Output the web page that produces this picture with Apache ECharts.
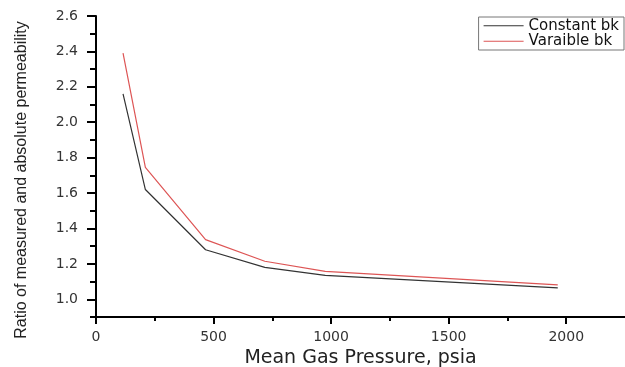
<!DOCTYPE html>
<html>
<head>
<meta charset="utf-8">
<script src="https://cdn.jsdelivr.net/npm/echarts@6/dist/echarts.min.js"></script>
<style>html,body{margin:0;padding:0;background:#fff}#main{width:625px;height:367px}</style>
</head>
<body>
<div id="main"></div>
<script>
// mean gas pressure (psia) and permeability ratio
var pressure = [115, 210, 466, 718, 975, 1964];
var constantBk = [2.16, 1.62, 1.28, 1.18, 1.135, 1.065];
var variableBk = [2.39, 1.745, 1.337, 1.215, 1.158, 1.081];
var yMajor = [1.0, 1.2, 1.4, 1.6, 1.8, 2.0, 2.2, 2.4, 2.6];
var yMinor = [0.9, 1.1, 1.3, 1.5, 1.7, 1.9, 2.1, 2.3, 2.5];
var xMajor = [0, 500, 1000, 1500, 2000];
var xMinor = [250, 750, 1250, 1750];

var myChart = echarts.init(document.getElementById('main'));

function pairs(xs, ys) {
    return xs.map(function (x, i) { return [x, ys[i]]; });
}

var option = {
    animation: false,
    grid: { left: 96, right: 0, top: 16, bottom: 50, outerBoundsMode: 'none' },
    legend: {
        orient: 'vertical',
        right: 1,
        top: 17,
        padding: [1, 5, 1, 5],
        itemGap: 0,
        itemWidth: 40,
        itemHeight: 1.2,
        icon: 'rect',
        borderColor: '#777',
        borderWidth: 1,
        textStyle: { fontFamily: 'DejaVu Sans', fontSize: 15, color: '#111', lineHeight: 15.5 },
        data: ['Constant bk', 'Varaible bk']
    },
    graphic: [{
        type: 'text',
        x: 22,
        y: 180,
        rotation: Math.PI / 2,
        style: {
            text: 'Ratio of measured and absolute permeability',
            fontFamily: 'Liberation Sans', fontSize: 16, fill: '#222',
            align: 'center', verticalAlign: 'middle'
        }
    }],
    xAxis: [
        {
            type: 'value', min: 0, max: 2250,
            name: 'Mean Gas Pressure, psia',
            nameLocation: 'middle',
            nameGap: 32,
            nameTextStyle: { fontFamily: 'DejaVu Sans', fontSize: 19, color: '#222' },
            axisLine: { onZero: false, lineStyle: { color: '#000', width: 2 } },
            axisTick: { customValues: xMajor, length: 7, lineStyle: { color: '#000', width: 2 } },
            axisLabel: {
                customValues: xMajor, margin: 13,
                fontFamily: 'DejaVu Sans', fontSize: 14, color: '#333',
                formatter: function (v) { return String(v); }
            },
            splitLine: { show: false }
        },
        {
            type: 'value', min: 0, max: 2250, position: 'bottom',
            axisLine: { show: false },
            axisTick: { customValues: xMinor, length: 4, lineStyle: { color: '#000', width: 2 } },
            axisLabel: { show: false },
            splitLine: { show: false }
        }
    ],
    yAxis: [
        {
            type: 'value', min: 0.9, max: 2.6,
            axisLine: { show: true, onZero: false, lineStyle: { color: '#000', width: 2 } },
            axisTick: { customValues: yMajor, length: 9, lineStyle: { color: '#000', width: 2 } },
            axisLabel: {
                customValues: yMajor, margin: 18,
                fontFamily: 'DejaVu Sans', fontSize: 14, color: '#333',
                formatter: function (v) { return v.toFixed(1); }
            },
            splitLine: { show: false }
        },
        {
            type: 'value', min: 0.9, max: 2.6, position: 'left',
            axisLine: { show: false },
            axisTick: { customValues: yMinor, length: 6, lineStyle: { color: '#000', width: 2 } },
            axisLabel: { show: false },
            splitLine: { show: false }
        }
    ],
    series: [
        {
            name: 'Constant bk',
            type: 'line',
            symbol: 'none',
            color: '#333',
            lineStyle: { color: '#333', width: 1.2 },
            data: pairs(pressure, constantBk)
        },
        {
            name: 'Varaible bk',
            type: 'line',
            symbol: 'none',
            color: '#d55',
            lineStyle: { color: '#d55', width: 1.2 },
            data: pairs(pressure, variableBk)
        }
    ]
};

myChart.setOption(option);
</script>
</body>
</html>
